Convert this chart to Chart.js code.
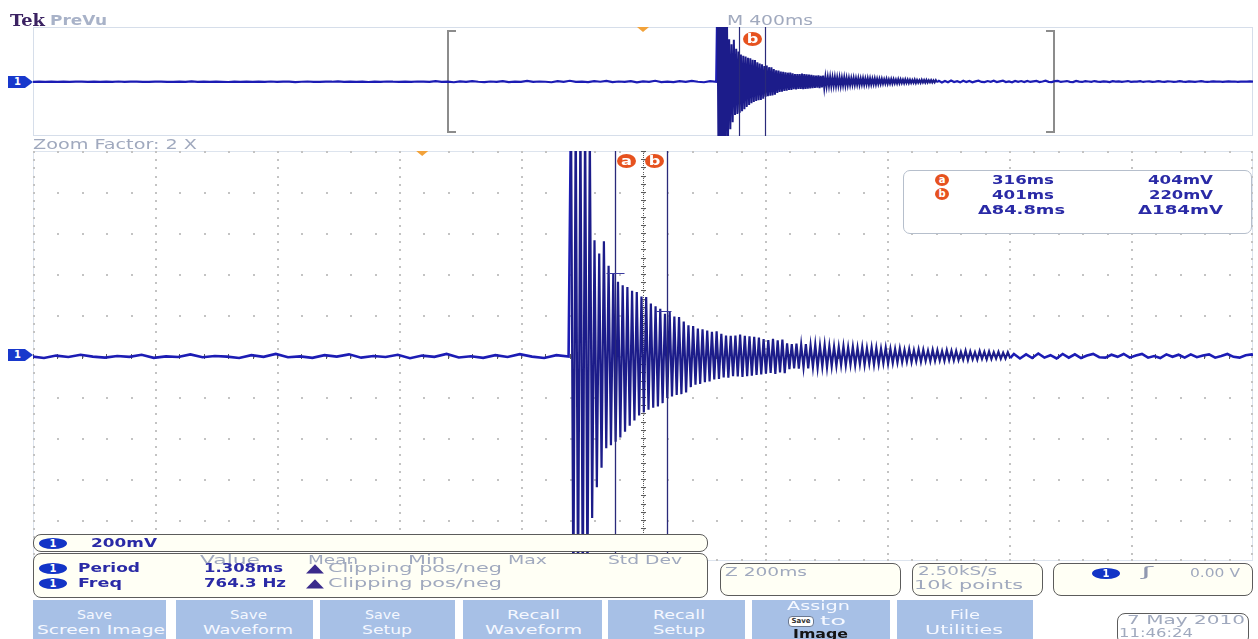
<!DOCTYPE html>
<html>
<head>
<meta charset="utf-8">
<script src="https://cdn.jsdelivr.net/npm/chart.js@4.4.0/dist/chart.umd.min.js"></script>
<style>
  html, body { margin: 0; padding: 0; background: #fff; }
  body { width: 1258px; height: 639px; position: relative; overflow: hidden; font-family: 'DejaVu Sans', sans-serif; }
  .wrap { position: absolute; }
  .txt { position: absolute; white-space: nowrap; line-height: 1; transform-origin: 0 0; }
  .box { position: absolute; box-sizing: border-box; border: 1px solid #5c5c5c; border-radius: 8px; background: #fffff5; }
  .btn { position: absolute; top: 600px; height: 39px; background: #a7c0e6; }
  .pill { position: absolute; width: 28px; height: 11px; border-radius: 50%; background: #1234c6; color: #fff;
          font: bold 10px 'DejaVu Sans'; text-align: center; line-height: 11px; }
  .gnd { position: absolute; left: 8px; width: 25px; height: 12px; background: #1838cc; color: #fff;
         font: bold 10px 'DejaVu Sans'; line-height: 12px; padding-left: 6px; box-sizing: border-box;
         clip-path: polygon(0 0, 68% 0, 100% 50%, 68% 100%, 0 100%); }
  .badge { position: absolute; width: 14px; height: 12px; border-radius: 50%; background: #e6521f; color: #fff;
           font: bold 10px 'DejaVu Sans'; text-align: center; line-height: 12px; }
</style>
</head>
<body>

<div class="wrap" style="left:33px;top:27px;width:1220px;height:109px"><canvas id="overview"></canvas></div>
<div class="wrap" style="left:33px;top:151px;width:1220px;height:410px"><canvas id="main"></canvas></div>

<div class="gnd" style="top:76px">1</div>
<div class="gnd" style="top:349px">1</div>

<div class="box" style="left:903px;top:170px;width:349px;height:64px;background:#fff;border-color:#b6bfcc;border-radius:7px"></div>
<div class="badge" style="left:935px;top:174px">a</div>
<div class="badge" style="left:935px;top:188px">b</div>

<div class="box" style="left:33px;top:534px;width:675px;height:18px"></div>
<div class="box" style="left:33px;top:553px;width:675px;height:45px"></div>
<div class="box" style="left:720px;top:563px;width:181px;height:33px"></div>
<div class="box" style="left:912px;top:563px;width:131px;height:33px"></div>
<div class="box" style="left:1053px;top:563px;width:200px;height:33px"></div>
<div class="box" style="left:1117px;top:613px;width:132px;height:32px;background:#fff"></div>
<div class="pill" style="left:39px;top:538px">1</div>
<div class="pill" style="left:39px;top:563px">1</div>
<div class="pill" style="left:39px;top:578px">1</div>
<div class="pill" style="left:1092px;top:568px">1</div>

<div class="btn" style="left:33px;width:133px"></div>
<div class="btn" style="left:176px;width:137px"></div>
<div class="btn" style="left:320px;width:135px"></div>
<div class="btn" style="left:463px;width:139px"></div>
<div class="btn" style="left:608px;width:137px"></div>
<div class="btn" style="left:752px;width:138px"></div>
<div class="btn" style="left:897px;width:136px"></div>
<div style="position:absolute;left:788px;top:616px;width:26px;height:11px;border-radius:4px;background:#fff;border:1px solid #6a7890;box-sizing:border-box;font:bold 7px 'DejaVu Sans';line-height:9px;text-align:center;color:#333">Save</div>

<script>
// ---- data ----
// cursor readouts
const cursorTimes = [316, 401];      // ms
const cursorVolts = [404, 220];      // mV

// pre-trigger baseline noise, one sample every 20 ms from -2000 ms
const preStart = -2000;
const preStep = 20;
const preMv = [
  -4, -2, -5, -3, -4, -1, -5, -3, -2, -4,
  -3, -6, -2, -4, 0, -5, -3, -2, -6, -4,
  -3, -1, -4, -6, -2, -4, 2, -4, -3, -5,
  -2, -4, -7, -2, -4, -1, -6, -3, -4, 0,
  -5, -3, -2, -8, -3, 0, -4, -6, -2, -3,
  1, -5, -3, -4, -2, -7, -2, -5, 0, -3,
  -4, -2, -6, 0, -3, -5, 4, -4, -2, -10,
  2, -5, 6, -3, -8, 0, -4, 6, -9, -2,
  -5, 8, -6, 0, -3, -10, 4, -4, 10, -6,
  -2, -9, 4, -3, 8, -8, 0, -5, 6, -11,
  2, -4, 10, -7, -1, -9, 4, -5, 9, -3,
  -10, 4, -3
];

// ring-down: one high and one low sample per visible spike
const ringStart = 244;
const spikeMs = 7.7;
const ringHi = [
  1200, 1200, 1200, 1200, 1100, 565, 500, 560, 440, 402,
  362, 345, 336, 318, 312, 290, 288, 256, 242, 230,
  206, 214, 192, 190, 168, 150, 146, 134, 130, 124,
  118, 120, 108, 100, 98, 100, 105, 98, 96, 94,
  90, 82, 78, 84, 76, 80, 62, 58, 60, 55,
  58, 52, 56, 50, 54, 48, 46, 44, 48, 42,
  45, 40, 44, 38, 42, 40, 36, 40, 35, 34,
  36, 30, 34, 28, 32, 30, 26, 30, 28, 24,
  28, 25, 24, 20, 26, 22, 18, 24, 20, 22,
  18, 20, 16, 18
];
const ringLo = [
  -1200, -1200, -1200, -1150, -790, -640, -545, -450, -435, -418,
  -398, -370, -340, -315, -290, -275, -262, -252, -246, -230,
  -205, -198, -190, -186, -178, -152, -140, -136, -128, -124,
  -114, -112, -104, -106, -98, -100, -102, -98, -96, -92,
  -90, -86, -82, -88, -80, -84, -64, -60, -62, -56,
  -60, -54, -58, -52, -56, -50, -48, -44, -46, -42,
  -45, -40, -44, -38, -42, -40, -36, -38, -34, -32,
  -30, -28, -30, -26, -28, -24, -26, -24, -22, -24,
  -20, -22, -20, -18, -20, -16, -18, -14, -16, -15,
  -12, -14, -12, -10
];

// settled tail, one sample every 10 ms
const tailStart = 970;
const tailStep = 10;
const tailMv = [
  10, -12, 8, -10, 12, -8, 4, -12, 10, -8,
  8, -10, 2, 10, -6, -8, 6, -4, 10, -8,
  2, 10, -8, 0, -10, 8, -4, 6, -8, 8,
  -6, 2, 8, -8, 0, 10, -4, -8, 4, 8,
  -6, 0, 6, -4, -8, 8, -2, -6, 4, 0,
  -4, 6, -2, -6, 2, -2, -8, 4, -2, 2,
  -6, 0, 6, -4, -2, -2, 4, -6, 0, 2,
  -4, -2, 4, -2, -6, 2, 0, -4, -2, 4,
  -2, -4, 2, -2, -6, 0, 4, -2, -4, -2,
  2, -2, 0, -6, -2, 2, -2, 0, -4, -2,
  0, -2, 2, -2
];

// horizontal / vertical settings
const timeDiv = 200;                   // Z 200ms
const voltDiv = 200;                   // 200mV
const mainMin = -638;
const mainMax = mainMin + 10 * timeDiv;
const ovMin = -2000, ovMax = 2000;     // M 400ms, 10k points
const ovVolt = 730;

// ---- build the trace ----
function buildTrace() {
  const pts = [];
  preMv.forEach((v, i) => pts.push({ x: preStart + i * preStep, y: v }));
  ringHi.forEach((h, k) => {
    pts.push({ x: ringStart + k * spikeMs, y: h });
    pts.push({ x: ringStart + k * spikeMs + spikeMs / 2, y: ringLo[k] });
  });
  tailMv.forEach((v, i) => pts.push({ x: tailStart + i * tailStep, y: v }));
  return pts;
}
const trace = buildTrace();

const inRing = c => c.p0.parsed.x >= ringStart - 1 && c.p1.parsed.x < tailStart;

function drawBadge(ctx, cx, cy, letter) {
  ctx.save();
  ctx.fillStyle = '#e6521f';
  ctx.beginPath();
  ctx.ellipse(cx, cy, 9.5, 7, 0, 0, Math.PI * 2);
  ctx.fill();
  ctx.translate(cx, cy);
  ctx.scale(1.35, 1);
  ctx.fillStyle = '#fff';
  ctx.font = 'bold 12px "DejaVu Sans"';
  ctx.textAlign = 'center';
  ctx.textBaseline = 'middle';
  ctx.fillText(letter, 0, 0.5);
  ctx.restore();
}

function drawTrigger(ctx, px, top) {
  ctx.save();
  ctx.fillStyle = '#f2a23a';
  ctx.beginPath();
  ctx.moveTo(px - 6, top);
  ctx.lineTo(px + 6, top);
  ctx.lineTo(px, top + 5);
  ctx.closePath();
  ctx.fill();
  ctx.restore();
}

function vline(ctx, px, y0, y1) {
  ctx.beginPath(); ctx.moveTo(px, y0); ctx.lineTo(px, y1); ctx.stroke();
}
function hline(ctx, x0, x1, py) {
  ctx.beginPath(); ctx.moveTo(x0, py); ctx.lineTo(x1, py); ctx.stroke();
}

// graticule, cursors and markers of the zoomed window
const mainDecor = {
  id: 'mainDecor',
  beforeDatasetsDraw(chart) {
    const { ctx, chartArea: a, scales: { x, y } } = chart;
    ctx.save();
    ctx.strokeStyle = '#dde4ee';
    ctx.lineWidth = 1;
    ctx.strokeRect(a.left + 0.5, a.top + 0.5, a.width - 1, a.height - 1);
    ctx.fillStyle = '#c3c3c3';
    for (let i = 0; i <= 10; i++) {
      const px = Math.round(x.getPixelForValue(mainMin + i * timeDiv));
      for (let v = -5 * voltDiv; v <= 5 * voltDiv; v += voltDiv / 5) {
        ctx.fillRect(Math.min(px, a.right - 2), Math.round(y.getPixelForValue(v)), 2, 2);
      }
    }
    for (let j = 0; j <= 10; j++) {
      const py = Math.round(y.getPixelForValue(-5 * voltDiv + j * voltDiv));
      for (let t = mainMin; t <= mainMax + 0.1; t += timeDiv / 5) {
        ctx.fillRect(Math.round(x.getPixelForValue(t)), Math.min(py, a.bottom - 2), 2, 2);
      }
    }
    // centre cross with fine ticks
    const cx = Math.round(x.getPixelForValue(mainMin + 5 * timeDiv));
    const cy = Math.round(y.getPixelForValue(0));
    ctx.fillStyle = '#5a5a5a';
    for (let v = -5 * voltDiv; v <= 5 * voltDiv; v += voltDiv / 20) {
      ctx.fillRect(cx, Math.round(y.getPixelForValue(v)), 1, 1);
    }
    for (let v = -5 * voltDiv; v <= 5 * voltDiv; v += voltDiv / 5) {
      ctx.fillRect(cx - 2, Math.round(y.getPixelForValue(v)), 5, 1);
    }
    for (let t = mainMin; t <= mainMax; t += timeDiv / 5) {
      ctx.fillRect(Math.round(x.getPixelForValue(t)), cy - 2, 1, 5);
    }
    ctx.restore();
  },
  afterDatasetsDraw(chart) {
    const { ctx, chartArea: a, scales: { x, y } } = chart;
    const ax = Math.round(x.getPixelForValue(cursorTimes[0])) + 0.5;
    const bx = Math.round(x.getPixelForValue(cursorTimes[1])) + 0.5;
    ctx.save();
    ctx.strokeStyle = '#2a2a7a';
    ctx.lineWidth = 1.3;
    vline(ctx, ax, a.top, a.bottom);
    vline(ctx, bx, a.top, a.bottom);
    ctx.lineWidth = 1;
    ctx.strokeStyle = '#3a3aa0';
    const ay = Math.round(y.getPixelForValue(cursorVolts[0])) + 0.5;
    const by = Math.round(y.getPixelForValue(cursorVolts[1])) + 0.5;
    hline(ctx, ax - 9, ax + 9, ay);
    hline(ctx, bx - 11, bx + 4, by);
    ctx.restore();
    drawBadge(ctx, ax + 11, a.top + 10, 'a');
    drawBadge(ctx, bx - 13, a.top + 10, 'b');
    drawTrigger(ctx, x.getPixelForValue(0), a.top);
  }
};

// zoom brackets, cursors and trigger of the full record
const overviewDecor = {
  id: 'overviewDecor',
  beforeDatasetsDraw(chart) {
    const { ctx, chartArea: a, scales: { x } } = chart;
    ctx.save();
    ctx.strokeStyle = '#d6deea';
    ctx.lineWidth = 1;
    ctx.strokeRect(a.left + 0.5, a.top + 0.5, a.width - 1, a.height - 1);
    ctx.strokeStyle = '#8c8c8c';
    ctx.lineWidth = 2;
    const l = Math.round(x.getPixelForValue(mainMin));
    const r = Math.round(x.getPixelForValue(mainMax)) - 4;
    ctx.beginPath();
    ctx.moveTo(l + 8, a.top + 4); ctx.lineTo(l, a.top + 4); ctx.lineTo(l, a.bottom - 4); ctx.lineTo(l + 8, a.bottom - 4);
    ctx.moveTo(r - 8, a.top + 4); ctx.lineTo(r, a.top + 4); ctx.lineTo(r, a.bottom - 4); ctx.lineTo(r - 8, a.bottom - 4);
    ctx.stroke();
    ctx.restore();
  },
  afterDatasetsDraw(chart) {
    const { ctx, chartArea: a, scales: { x } } = chart;
    const ax = Math.round(x.getPixelForValue(cursorTimes[0])) + 0.5;
    const bx = Math.round(x.getPixelForValue(cursorTimes[1])) + 0.5;
    ctx.save();
    ctx.strokeStyle = '#2a2a7a';
    ctx.lineWidth = 1.2;
    vline(ctx, ax, a.top, a.bottom);
    vline(ctx, bx, a.top, a.bottom);
    ctx.restore();
    drawBadge(ctx, bx - 13, a.top + 12, 'b');
    drawTrigger(ctx, x.getPixelForValue(0), a.top);
  }
};

function scopeChart(id, xMin, xMax, yMax, plugin, baseWidth, ringWidth) {
  return new Chart(document.getElementById(id), {
    type: 'line',
    data: {
      datasets: [{
        label: 'CH1',
        data: trace,
        borderColor: '#1c1cb4',
        borderWidth: baseWidth,
        pointRadius: 0,
        tension: 0,
        segment: {
          borderColor: c => inRing(c) ? '#1c1c8a' : undefined,
          borderWidth: c => inRing(c) ? ringWidth : undefined
        }
      }]
    },
    options: {
      responsive: true,
      maintainAspectRatio: false,
      animation: false,
      events: [],
      layout: { padding: 0 },
      plugins: { legend: { display: false }, tooltip: { enabled: false } },
      scales: {
        x: { type: 'linear', min: xMin, max: xMax, display: false },
        y: { type: 'linear', min: -yMax, max: yMax, display: false }
      }
    },
    plugins: [plugin]
  });
}

scopeChart('overview', ovMin, ovMax, ovVolt, overviewDecor, 2.2, 2.0);
scopeChart('main', mainMin, mainMax, 5 * voltDiv, mainDecor, 2.6, 2.2);

// ---- screen text ----
function addText(txt, left, capTop, width, size, opts = {}) {
  const el = document.createElement('div');
  el.className = 'txt';
  el.textContent = txt;
  el.style.left = left + 'px';
  el.style.top = (capTop - size * 0.117) + 'px';
  el.style.fontSize = size + 'px';
  el.style.fontWeight = opts.bold ? 'bold' : 'normal';
  el.style.color = opts.color || '#a0a9be';
  if (opts.serif) el.style.fontFamily = "'DejaVu Serif', serif";
  document.body.appendChild(el);
  const w = el.getBoundingClientRect().width;
  el.style.transform = 'scaleX(' + (width / w).toFixed(3) + ')';
}
const navy = { bold: true, color: '#2a2aa6' };
const white = { color: '#f5f8ff' };

addText('Tek', 10, 14, 35, 17, { bold: true, serif: true, color: '#3b2262' });
addText('PreVu', 50, 15, 57, 14, { bold: true, color: '#a8b2c8' });
addText('M 400ms', 727, 15, 86, 14);
addText('Zoom Factor: 2 X', 33, 139, 164, 14);

addText(cursorTimes[0] + 'ms', 992, 175, 62, 13, navy);
addText(cursorVolts[0] + 'mV', 1148, 175, 65, 13, navy);
addText(cursorTimes[1] + 'ms', 992, 190, 62, 13, navy);
addText(cursorVolts[1] + 'mV', 1149, 190, 64, 13, navy);
addText('\u039484.8ms', 978, 205, 87, 13, navy);
addText('\u0394184mV', 1138, 205, 85, 13, navy);

addText(voltDiv + 'mV', 91, 538, 66, 13, navy);
addText('Value', 200, 555, 60, 13);
addText('Mean', 308, 555, 50, 13);
addText('Min', 408, 555, 37, 13);
addText('Max', 508, 555, 39, 13);
addText('Std Dev', 608, 555, 74, 13);
addText('Period', 78, 563, 62, 13, navy);
addText('1.308ms', 204, 563, 79, 13, navy);
addText('\u25B2', 306, 563, 18, 12, { color: '#3a2a8c' });
addText('Clipping pos/neg', 328, 563, 174, 13);
addText('Freq', 78, 578, 44, 13, navy);
addText('764.3 Hz', 204, 578, 82, 13, navy);
addText('\u25B2', 306, 578, 18, 12, { color: '#3a2a8c' });
addText('Clipping pos/neg', 328, 578, 174, 13);

addText('Z ' + timeDiv + 'ms', 725, 567, 82, 13);
addText('2.50kS/s', 918, 566, 79, 13);
addText('10k points', 914, 580, 109, 13);
addText('\u0283', 1141, 567, 12, 13, { color: '#9098b0' });
addText('0.00 V', 1190, 568, 50, 13);
addText('7 May 2010', 1127, 615, 118, 13);
addText('11:46:24', 1119, 628, 74, 13);

const buttons = [
  ['Save', 77, 35, 'Screen Image', 37, 128],
  ['Save', 230, 37, 'Waveform', 203, 90],
  ['Save', 365, 35, 'Setup', 362, 50],
  ['Recall', 507, 53, 'Waveform', 485, 97],
  ['Recall', 653, 52, 'Setup', 653, 52],
  ['File', 950, 30, 'Utilities', 925, 78]
];
buttons.forEach(b => {
  addText(b[0], b[1], 610, b[2], 13, white);
  addText(b[3], b[4], 625, b[5], 13, white);
});
addText('Assign', 787, 601, 63, 13, white);
addText('to', 820, 616, 26, 13, white);
addText('Image', 793, 629, 55, 13, { bold: true, color: '#141414' });
</script>
</body>
</html>
